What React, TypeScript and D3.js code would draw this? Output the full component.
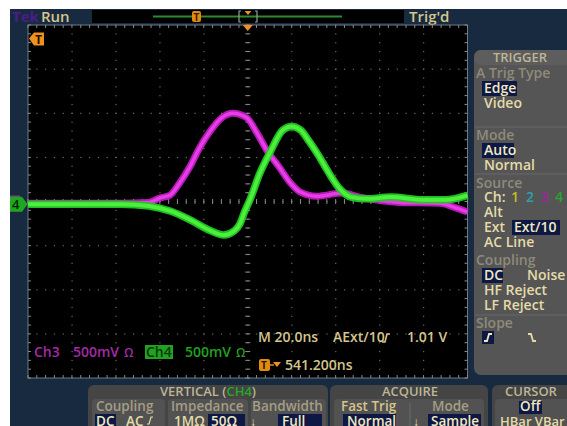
import * as d3 from "d3";

// Ch3 (magenta) trace, time in ns from screen centre, volts
const ch3Time = [-100, -67, -45, -40, -35.5, -31, -26.4, -21.9, -17.3, -11.8, -6.8, -0.5, 4.1, 8.7, 14.6, 19.1, 23.7, 31.4, 42.8, 51, 69.2, 87.5, 93.4, 100];
const ch3Volt = [0.01, 0.01, 0.02, 0.07, 0.1, 0.24, 0.42, 0.64, 0.82, 0.98, 1.03, 0.98, 0.81, 0.61, 0.41, 0.25, 0.14, 0.09, 0.125, 0.08, 0.02, 0.01, -0.03, -0.09];

// Ch4 (green) trace
const ch4Time = [-100, -58, -45, -35, -26, -17, -11, -6, -3.5, -1.5, 1, 5.5, 10, 16, 20, 24, 28, 32, 37, 42, 47, 54, 65, 80, 90, 100];
const ch4Volt = [0, 0, -0.02, -0.08, -0.18, -0.3, -0.35, -0.3, -0.22, -0.09, 0.05, 0.35, 0.58, 0.84, 0.88, 0.84, 0.71, 0.56, 0.35, 0.17, 0.08, 0.06, 0.08, 0.05, 0.05, 0.1];

const timeDivs = d3.range(-100, 101, 20);
const voltDivs = d3.range(-4, 5, 1);

const triggerTypes = ["Edge", "Video"];
const modes = ["Auto", "Normal"];

const FONT = "'Open Sans', sans-serif";
const CREAM = "#e4dba8";
const DIM = "#8e8a7a";
const TAN = "#d4c68c";
const HILITE = "#0e1844";

export default function App() {
  const W = 567, H = 426;
  const gx0 = 28, gx1 = 467.5, gy0 = 25, gy1 = 378;
  const x = d3.scaleLinear().domain([-100, 100]).range([gx0, gx1]);
  const y = d3.scaleLinear().domain([-4, 4]).range([gy1, gy0]);
  const vPerDiv = 0.5;
  const pos = -0.06;

  const line = d3
    .line<[number, number]>()
    .x((d) => x(d[0]))
    .y((d) => y(d[1] / vPerDiv + pos))
    .curve(d3.curveMonotoneX);

  const ch3 = line(ch3Time.map((t, i) => [t, ch3Volt[i]]) as [number, number][])!;
  const ch4 = line(ch4Time.map((t, i) => [t, ch4Volt[i]]) as [number, number][])!;

  // graticule dots (every 1/5 div)
  const dots: { cx: number; cy: number }[] = [];
  voltDivs.slice(1, -1).forEach((v) => {
    d3.range(-100, 100.1, 4).forEach((t) => dots.push({ cx: x(t), cy: y(v) }));
  });
  timeDivs.slice(1, -1).forEach((t) => {
    d3.range(-4, 4.01, 0.2).forEach((v) => dots.push({ cx: x(t), cy: y(v) }));
  });

  const minorT = d3.range(-100, 100.1, 4);
  const minorV = d3.range(-4, 4.01, 0.2);
  const tickCol = "#8a8a8a";

  const txt = (s: string, tx: number, ty: number, fill: string, size = 14, extra: any = {}) => (
    <text x={tx} y={ty} fill={fill} fontSize={size} fontFamily={FONT} fontWeight={600} {...extra}>
      {s}
    </text>
  );
  const hiBox = (bx: number, by: number, bw: number, bh: number) => (
    <rect x={bx} y={by} width={bw} height={bh} fill={HILITE} />
  );

  return (
    <div style={{ position: "absolute", left: 0, top: 0 }}>
      <svg width={W} height={H} style={{ display: "block" }}>
        <rect width={W} height={H} fill="#fff" />
        <rect x={10} y={9} width={W - 10} height={H - 9} fill="#182a3f" />

        {/* top status bar */}
        {txt("Tek", 12, 22, "#4b1c8c", 15, { fontWeight: 700 })}
        {txt("Run", 41, 22, TAN, 15)}
        <rect x={92} y={10} width={312} height={13} fill="#000" />
        <line x1={153} x2={342} y1={16.5} y2={16.5} stroke="#2f8a2f" strokeWidth={2} />
        <rect x={192} y={11} width={9} height={11} rx={2} fill="#e08a10" />
        {txt("T", 193.5, 20.5, "#3a1a00", 10, { fontWeight: 700 })}
        <path d="M241,11 h-2 v11 h2 M255,11 h2 v11 h-2" fill="none" stroke="#9a9a9a" strokeWidth={1.2} />
        <path d="M244.5,11 h7 l-3.5,4 z" fill="#f09020" />
        {txt("Trig'd", 409, 22, TAN, 15)}

        {/* graticule */}
        <rect x={gx0} y={gy0} width={gx1 - gx0} height={gy1 - gy0} fill="#000" stroke="#6c7888" strokeWidth={1} />
        {dots.map((d, i) => (
          <rect key={i} x={d.cx - 0.5} y={d.cy - 0.5} width={1.2} height={1.2} fill="#6a6a6a" />
        ))}
        {minorT.map((t, i) => (
          <g key={"mt" + i} stroke={tickCol} strokeWidth={1}>
            <line x1={x(t)} x2={x(t)} y1={y(0) - 2.5} y2={y(0) + 2.5} />
            <line x1={x(t)} x2={x(t)} y1={gy0} y2={gy0 + 3} />
            <line x1={x(t)} x2={x(t)} y1={gy1} y2={gy1 - 3} />
          </g>
        ))}
        {minorV.map((v, i) => (
          <g key={"mv" + i} stroke={tickCol} strokeWidth={1}>
            <line y1={y(v)} y2={y(v)} x1={x(0) - 2.5} x2={x(0) + 2.5} />
            <line y1={y(v)} y2={y(v)} x1={gx0} x2={gx0 + 3} />
            <line y1={y(v)} y2={y(v)} x1={gx1} x2={gx1 - 3} />
          </g>
        ))}

        {/* traces */}
        <path d={ch3} fill="none" stroke="#c81ec8" strokeWidth={7} strokeLinejoin="round" opacity={0.9} />
        <path d={ch3} fill="none" stroke="#e83ce8" strokeWidth={3.5} strokeLinejoin="round" />
        <path d={ch4} fill="none" stroke="#22c822" strokeWidth={7.5} strokeLinejoin="round" opacity={0.95} />
        <path d={ch4} fill="none" stroke="#4cf03c" strokeWidth={4} strokeLinejoin="round" />

        {/* markers */}
        <path d={`M${x(0) - 5},${gy0} h10 l-5,6 z`} fill="#f09020" />
        <path d="M29,38.5 l5,-6 h10 v13 h-10 z" fill="#f09020" />
        {txt("T", 35, 44, "#2a1400", 12, { fontWeight: 700 })}
        <line x1={10} x2={20} y1={y(pos) - 8} y2={y(pos) - 8} stroke="#b040b0" strokeWidth={1} />
        <path d={`M10,${y(pos) - 7.5} h12 l5.5,7.5 l-5.5,7.5 h-12 z`} fill="#1fa81f" />
        {txt("4", 12, y(pos) + 5, "#062806", 13)}

        {/* readouts in graticule */}
        {txt("Ch3", 34, 357, "#a52aa5")}
        {txt("500mV", 73, 357, "#a52aa5")}
        {txt("Ω", 124, 357, "#a52aa5", 12)}
        <rect x={145} y={345} width={28} height={14} fill="#21a321" />
        {txt("Ch4", 146, 357, "#0a3a0a")}
        {txt("500mV", 185, 357, "#21a321")}
        {txt("Ω", 236, 357, "#21a321", 12)}
        {txt("M 20.0ns", 258, 342, TAN)}
        {txt("AExt/10", 333, 342, TAN)}
        <path d="M382,342 h3 l2,-8 h3" fill="none" stroke={TAN} strokeWidth={1.6} />
        {txt("1.01 V", 407, 342, TAN)}
        <rect x={259} y={359} width={11} height={12} rx={2} fill="#e08a10" />
        {txt("T", 261, 369, "#2a1400", 10, { fontWeight: 700 })}
        <path d="M270,365 h4" stroke="#e08a10" strokeWidth={1.5} />
        <path d="M273,362 h8 l-4,5 z" fill="#f09020" />
        {txt("541.200ns", 285, 370, TAN)}

        {/* TRIGGER panel */}
        <rect x={474} y={50} width={110} height={325} rx={7} fill="#555" />
        <rect x={474} y={50} width={110} height={15} rx={7} fill="#5d5d5d" />
        {txt("TRIGGER", 520, 62, "#bdb596", 13, { textAnchor: "middle" })}
        {txt("A Trig Type", 476, 78, DIM)}
        {hiBox(482, 81, 35, 15)}
        {triggerTypes.map((s, i) => txt(s, 484, 93 + i * 14.5, i === 0 ? "#f0e8c0" : CREAM))}
        <line x1={475} x2={567} y1={127} y2={127} stroke="#686868" />
        {txt("Mode", 476, 140, DIM)}
        {hiBox(482, 143, 32, 15)}
        {modes.map((s, i) => txt(s, 484, 155 + i * 15, i === 0 ? "#f0e8c0" : CREAM))}
        <line x1={475} x2={567} y1={174} y2={174} stroke="#686868" />
        {txt("Source", 476, 188, DIM)}
        {txt("Ch:", 484, 202, CREAM)}
        {txt("1", 511, 202, "#c4bc2a")}
        {txt("2", 526, 202, "#2aa2ae")}
        {txt("3", 541, 202, "#a024a0")}
        {txt("4", 555, 202, "#27a827")}
        {txt("Alt", 484, 217, CREAM)}
        {txt("Ext", 484, 232, CREAM)}
        {hiBox(512, 220, 48, 15)}
        {txt("Ext/10", 514, 232, "#f0e8c0")}
        {txt("AC Line", 484, 247, CREAM)}
        {txt("Coupling", 476, 265, DIM)}
        {hiBox(482, 268, 21, 15)}
        {txt("DC", 484, 280, "#f0e8c0")}
        {txt("Noise", 527, 280, CREAM)}
        {txt("HF Reject", 484, 295, CREAM)}
        {txt("LF Reject", 484, 310, CREAM)}
        <line x1={475} x2={567} y1={315} y2={315} stroke="#686868" />
        {txt("Slope", 476, 328, DIM)}
        {hiBox(482, 331, 12, 13)}
        <path d="M484,341 h3 l2,-7 h3" fill="none" stroke="#f0e8c0" strokeWidth={1.8} />
        <path d="M528,334 h3 l2,7 h3" fill="none" stroke={CREAM} strokeWidth={1.8} />

        {/* VERTICAL panel */}
        <rect x={88} y={385} width={240} height={50} rx={6} fill="#454545" />
        <text x={208} y={396} fill="#bdb596" fontSize={13} fontFamily={FONT} fontWeight={600} textAnchor="middle">
          VERTICAL (<tspan fill="#27a827">CH4</tspan>)
        </text>
        <rect x={92} y={399} width={73} height={30} rx={4} fill="#525252" />
        <rect x={168} y={399} width={80} height={30} rx={4} fill="#525252" />
        <rect x={251} y={399} width={75} height={30} rx={4} fill="#525252" />
        {txt("Coupling", 96, 411, "#a49e84", 13.5)}
        {txt("Impedance", 171, 411, "#a49e84", 13.5)}
        {txt("Bandwidth", 252, 411, "#a49e84", 13.5)}
        {hiBox(95, 414, 21, 14)}
        {txt("DC", 96, 426, "#f0e8c0", 13.5)}
        {txt("AC", 126, 426, CREAM, 13.5)}
        <path d="M147,424 h2 l2,-7 h2" fill="none" stroke={CREAM} strokeWidth={1.2} />
        {txt("1MΩ", 174, 426, CREAM, 13.5)}
        {hiBox(208, 414, 37, 14)}
        {txt("50Ω", 211, 426, "#f0e8c0", 13.5)}
        {txt("↓", 250, 426, CREAM, 12)}
        {hiBox(278, 414, 44, 14)}
        {txt("Full", 282, 426, "#f0e8c0", 13.5)}

        {/* ACQUIRE panel */}
        <rect x={330} y={385} width={158} height={50} rx={6} fill="#454545" />
        {txt("ACQUIRE", 410, 396, "#bdb596", 13, { textAnchor: "middle" })}
        <rect x={334} y={399} width={150} height={30} rx={4} fill="#525252" />
        <line x1={410} x2={410} y1={403} y2={426} stroke="#6a6a6a" />
        {txt("Fast Trig", 341, 411, TAN, 13.5)}
        {txt("Mode", 432, 411, "#a49e84", 13.5)}
        {hiBox(343, 414, 53, 14)}
        {txt("Normal", 347, 426, "#f0e8c0", 13.5)}
        {txt("↓", 413, 426, CREAM, 12)}
        {hiBox(428, 414, 53, 14)}
        {txt("Sample", 431, 426, "#f0e8c0", 13.5)}

        {/* CURSOR panel */}
        <rect x={492} y={385} width={90} height={50} rx={6} fill="#454545" />
        {txt("CURSOR", 531, 396, "#bdb596", 13, { textAnchor: "middle" })}
        <rect x={495} y={399} width={80} height={30} rx={4} fill="#525252" />
        {hiBox(519, 401, 23, 13)}
        {txt("Off", 520, 411, "#f0e8c0", 13.5)}
        {txt("HBar VBar", 500, 426, CREAM, 13)}
      </svg>
    </div>
  );
}
